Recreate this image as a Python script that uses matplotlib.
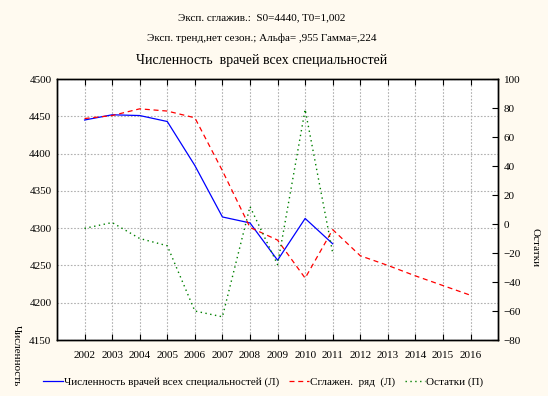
import matplotlib.pyplot as plt

plt.rcParams['font.family'] = ['Liberation Serif', 'DejaVu Serif']
plt.rcParams['font.size'] = 8

# данные
years = [2002, 2003, 2004, 2005, 2006, 2007, 2008, 2009, 2010, 2011]
vrachi = [4445, 4452, 4451, 4443, 4384, 4315, 4307, 4257, 4313, 4279]
smooth_years = [2002, 2003, 2004, 2005, 2006, 2007, 2008, 2009, 2010, 2011,
                2012, 2013, 2014, 2015, 2016]
smooth = [4447, 4451, 4460, 4457, 4448, 4377, 4301, 4284, 4233, 4298,
          4263, 4250, 4236, 4223, 4210]
ostatki = [-3, 1, -10, -15, -60, -64, 12, -28, 79, -20]

bg = '#FFFAF0'
fig = plt.figure(figsize=(5.48, 3.96), dpi=100, facecolor=bg)
ax = fig.add_axes([0.104, 0.1414, 0.805, 0.6591])
ax.set_facecolor('white')
ax2 = ax.twinx()

l1, = ax.plot(years, vrachi, color='#0000FF', lw=0.9)
l2, = ax.plot(smooth_years, smooth, color='#FF0000', lw=0.9, dashes=(4, 3))
l3, = ax2.plot(years, ostatki, color='#008000', lw=1.0, dashes=(1, 2.5))

ax.set_xlim(2001, 2017)
ax.set_xticks(range(2002, 2017))
ax.set_ylim(4150, 4500)
ax.set_yticks(range(4150, 4501, 50))
ax2.set_ylim(-80, 100)
ax2.set_yticks(range(-80, 101, 20))

ax.grid(True, color='#B0B0B0', linestyle=(0, (1.5, 1.5)), lw=0.8)
ax.tick_params(axis='x', direction='in', top=True, length=4, pad=8)
ax.tick_params(axis='y', direction='in', length=0, pad=4)
ax2.tick_params(axis='y', direction='in', length=4, pad=4)
for a in (ax, ax2):
    for s in a.spines.values():
        s.set_linewidth(1.0)

fig.text(0.478, 0.955, 'Эксп. сглажив.:  S0=4440, T0=1,002', ha='center', va='center', fontsize=8)
fig.text(0.478, 0.904, 'Эксп. тренд,нет сезон.; Альфа= ,955 Гамма=,224', ha='center', va='center', fontsize=8)
fig.text(0.478, 0.846, 'Численность  врачей всех специальностей', ha='center', va='center', fontsize=10)

fig.text(0.029, 1 - 325 / 396, 'Численность', rotation=270,
         ha='center', va='top', fontsize=8)
fig.text(0.977, 1 - 228 / 396, 'Остатки', rotation=270, ha='center', va='top', fontsize=8)

fig.legend([l1, l2, l3],
           ['Численность врачей всех специальностей (Л)', 'Сглажен.  ряд  (Л)', 'Остатки (П)'],
           loc='center', bbox_to_anchor=(0.48, 0.035), ncol=3, frameon=False,
           handlelength=1.8, handletextpad=0.1, columnspacing=0.9, fontsize=8)

fig.savefig('out.png', dpi=100, facecolor=bg)
